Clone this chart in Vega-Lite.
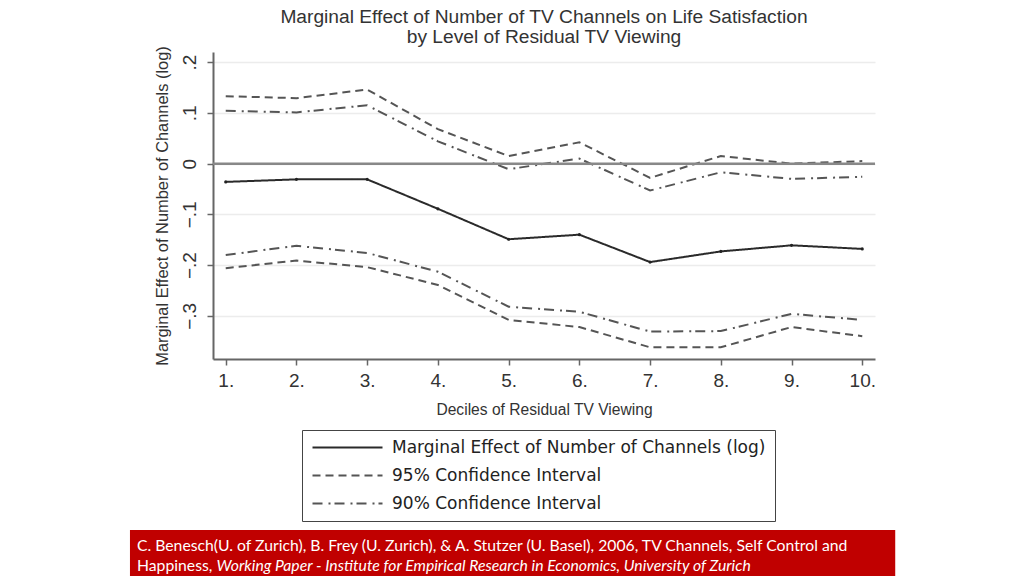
{
  "$schema": "https://vega.github.io/schema/vega-lite/v6.json",
  "width": 662,
  "height": 307,
  "autosize": {"type": "none"},
  "padding": {"left": 213, "top": 52, "right": 149, "bottom": 217},
  "background": "white",
  "config": {"view": {"stroke": null}, "font": "Liberation Sans"},
  "title": {
    "text": ["Marginal Effect of Number of TV Channels on Life Satisfaction", "by Level of Residual TV Viewing"],
    "anchor": "middle",
    "frame": "group",
    "fontSize": 19.2,
    "fontWeight": "normal",
    "font": "Liberation Sans",
    "color": "#333",
    "lineHeight": 20,
    "offset": 8,
    "dy": 9
  },
  "datasets": {
    "effects": [
      {"decile": 1, "series": "Marginal Effect of Number of Channels (log)", "bound": "est", "value": -0.036},
      {"decile": 2, "series": "Marginal Effect of Number of Channels (log)", "bound": "est", "value": -0.031},
      {"decile": 3, "series": "Marginal Effect of Number of Channels (log)", "bound": "est", "value": -0.031},
      {"decile": 4, "series": "Marginal Effect of Number of Channels (log)", "bound": "est", "value": -0.089},
      {"decile": 5, "series": "Marginal Effect of Number of Channels (log)", "bound": "est", "value": -0.149},
      {"decile": 6, "series": "Marginal Effect of Number of Channels (log)", "bound": "est", "value": -0.140},
      {"decile": 7, "series": "Marginal Effect of Number of Channels (log)", "bound": "est", "value": -0.194},
      {"decile": 8, "series": "Marginal Effect of Number of Channels (log)", "bound": "est", "value": -0.173},
      {"decile": 9, "series": "Marginal Effect of Number of Channels (log)", "bound": "est", "value": -0.161},
      {"decile": 10, "series": "Marginal Effect of Number of Channels (log)", "bound": "est", "value": -0.168},
      {"decile": 1, "series": "95% Confidence Interval", "bound": "upper", "value": 0.133},
      {"decile": 2, "series": "95% Confidence Interval", "bound": "upper", "value": 0.129},
      {"decile": 3, "series": "95% Confidence Interval", "bound": "upper", "value": 0.146},
      {"decile": 4, "series": "95% Confidence Interval", "bound": "upper", "value": 0.068},
      {"decile": 5, "series": "95% Confidence Interval", "bound": "upper", "value": 0.015},
      {"decile": 6, "series": "95% Confidence Interval", "bound": "upper", "value": 0.042},
      {"decile": 7, "series": "95% Confidence Interval", "bound": "upper", "value": -0.028},
      {"decile": 8, "series": "95% Confidence Interval", "bound": "upper", "value": 0.015},
      {"decile": 9, "series": "95% Confidence Interval", "bound": "upper", "value": 0.000},
      {"decile": 10, "series": "95% Confidence Interval", "bound": "upper", "value": 0.005},
      {"decile": 1, "series": "95% Confidence Interval", "bound": "lower", "value": -0.206},
      {"decile": 2, "series": "95% Confidence Interval", "bound": "lower", "value": -0.191},
      {"decile": 3, "series": "95% Confidence Interval", "bound": "lower", "value": -0.204},
      {"decile": 4, "series": "95% Confidence Interval", "bound": "lower", "value": -0.239},
      {"decile": 5, "series": "95% Confidence Interval", "bound": "lower", "value": -0.308},
      {"decile": 6, "series": "95% Confidence Interval", "bound": "lower", "value": -0.322},
      {"decile": 7, "series": "95% Confidence Interval", "bound": "lower", "value": -0.362},
      {"decile": 8, "series": "95% Confidence Interval", "bound": "lower", "value": -0.362},
      {"decile": 9, "series": "95% Confidence Interval", "bound": "lower", "value": -0.322},
      {"decile": 10, "series": "95% Confidence Interval", "bound": "lower", "value": -0.340},
      {"decile": 1, "series": "90% Confidence Interval", "bound": "upper", "value": 0.104},
      {"decile": 2, "series": "90% Confidence Interval", "bound": "upper", "value": 0.101},
      {"decile": 3, "series": "90% Confidence Interval", "bound": "upper", "value": 0.115},
      {"decile": 4, "series": "90% Confidence Interval", "bound": "upper", "value": 0.044},
      {"decile": 5, "series": "90% Confidence Interval", "bound": "upper", "value": -0.011},
      {"decile": 6, "series": "90% Confidence Interval", "bound": "upper", "value": 0.010},
      {"decile": 7, "series": "90% Confidence Interval", "bound": "upper", "value": -0.053},
      {"decile": 8, "series": "90% Confidence Interval", "bound": "upper", "value": -0.017},
      {"decile": 9, "series": "90% Confidence Interval", "bound": "upper", "value": -0.030},
      {"decile": 10, "series": "90% Confidence Interval", "bound": "upper", "value": -0.026},
      {"decile": 1, "series": "90% Confidence Interval", "bound": "lower", "value": -0.180},
      {"decile": 2, "series": "90% Confidence Interval", "bound": "lower", "value": -0.162},
      {"decile": 3, "series": "90% Confidence Interval", "bound": "lower", "value": -0.176},
      {"decile": 4, "series": "90% Confidence Interval", "bound": "lower", "value": -0.213},
      {"decile": 5, "series": "90% Confidence Interval", "bound": "lower", "value": -0.282},
      {"decile": 6, "series": "90% Confidence Interval", "bound": "lower", "value": -0.292},
      {"decile": 7, "series": "90% Confidence Interval", "bound": "lower", "value": -0.331},
      {"decile": 8, "series": "90% Confidence Interval", "bound": "lower", "value": -0.330},
      {"decile": 9, "series": "90% Confidence Interval", "bound": "lower", "value": -0.296},
      {"decile": 10, "series": "90% Confidence Interval", "bound": "lower", "value": -0.308}
    ],
    "footer1": [{"label": "C. Benesch(U. of Zurich), B. Frey (U. Zurich), & A. Stutzer (U. Basel), 2006, TV Channels, Self Control and"}],
    "footer2": [{"label": "Happiness,"}],
    "footer3": [{"label": "Working Paper - Institute for Empirical Research in Economics, University of Zurich"}],
    "box": [{"name": "source"}]
  },
  "layer": [
    {
      "data": {"name": "box"},
      "mark": {"type": "rect", "color": "#c00000", "clip": false},
      "encoding": {
        "x": {"datum": -0.354, "type": "quantitative"},
        "x2": {"datum": 10.466},
        "y": {"datum": -0.722, "type": "quantitative"},
        "y2": {"datum": -0.83}
      }
    },
    {
      "data": {"name": "effects"},
      "mark": {"type": "line", "strokeWidth": 2, "clip": false},
      "encoding": {
        "x": {
          "field": "decile",
          "type": "quantitative",
          "scale": {"domain": [0.82, 10.18], "nice": false, "zero": false},
          "axis": {
            "title": "Deciles of Residual TV Viewing",
            "titleFont": "Liberation Sans",
            "titleFontSize": 15.6,
            "titleFontWeight": "normal",
            "titleColor": "#333",
            "titlePadding": 12,
            "values": [1, 2, 3, 4, 5, 6, 7, 8, 9, 10],
            "labelExpr": "datum.value + '.'",
            "labelFont": "Liberation Sans",
            "labelFontSize": 19,
            "labelColor": "#333",
            "labelPadding": 6,
            "grid": false,
            "domainColor": "#666",
            "domainWidth": 2,
            "tickColor": "#666",
            "tickWidth": 1.5,
            "tickSize": 6
          }
        },
        "y": {
          "field": "value",
          "type": "quantitative",
          "scale": {"domain": [-0.385, 0.22], "nice": false, "zero": false},
          "axis": {
            "title": "Marginal Effect of Number of Channels (log)",
            "titleFont": "Liberation Sans",
            "titleFontSize": 16.4,
            "titleFontWeight": "normal",
            "titleColor": "#333",
            "titlePadding": 10,
            "values": [-0.3, -0.2, -0.1, 0, 0.1, 0.2],
            "labelExpr": "datum.value == 0 ? '0' : replace(format(datum.value, '.1f'), '0.', '.')",
            "labelAngle": 270,
            "labelAlign": "center",
            "labelBaseline": "bottom",
            "labelFont": "Liberation Sans",
            "labelFontSize": 19,
            "labelColor": "#333",
            "labelPadding": 8,
            "grid": true,
            "gridColor": "#ececec",
            "gridWidth": 1.5,
            "domainColor": "#666",
            "domainWidth": 2,
            "tickColor": "#666",
            "tickWidth": 1.5,
            "tickSize": 6
          }
        },
        "color": {
          "field": "series",
          "type": "nominal",
          "scale": {
            "domain": ["Marginal Effect of Number of Channels (log)", "95% Confidence Interval", "90% Confidence Interval"],
            "range": ["#2a2a2a", "#555555", "#555555"]
          },
          "legend": {
            "title": null,
            "orient": "none",
            "legendX": 89,
            "legendY": 378,
            "symbolType": "M-1,0H9",
            "symbolSize": 196,
            "symbolStrokeWidth": 2,
            "symbolFillColor": "transparent",
            "labelFont": "DejaVu Sans",
            "labelFontSize": 17,
            "labelColor": "#222",
            "labelOffset": 64,
            "labelLimit": 600,
            "rowPadding": 10,
            "padding": 9,
            "strokeColor": "#444",
            "fillColor": "white"
          }
        },
        "strokeDash": {
          "field": "series",
          "type": "nominal",
          "scale": {
            "domain": ["Marginal Effect of Number of Channels (log)", "95% Confidence Interval", "90% Confidence Interval"],
            "range": [[1, 0], [8, 5], [10, 6, 2, 4]]
          },
          "legend": {
            "title": null,
            "orient": "none",
            "legendX": 89,
            "legendY": 378,
            "symbolType": "M-1,0H9",
            "symbolSize": 196,
            "symbolStrokeWidth": 2,
            "symbolFillColor": "transparent",
            "labelFont": "DejaVu Sans",
            "labelFontSize": 17,
            "labelColor": "#222",
            "labelOffset": 64,
            "labelLimit": 600,
            "rowPadding": 10,
            "padding": 9,
            "strokeColor": "#444",
            "fillColor": "white"
          }
        },
        "detail": {"field": "bound", "type": "nominal"}
      }
    },
    {
      "data": {"name": "box"},
      "mark": {"type": "rule", "color": "#888", "strokeWidth": 2.5},
      "encoding": {
        "y": {"datum": 0, "type": "quantitative"}
      }
    },
    {
      "data": {"name": "effects"},
      "transform": [{"filter": "datum.bound == 'est'"}],
      "mark": {"type": "point", "filled": true, "size": 10, "color": "#222", "opacity": 1},
      "encoding": {
        "x": {"field": "decile", "type": "quantitative"},
        "y": {"field": "value", "type": "quantitative"}
      }
    },
    {
      "data": {"name": "footer1"},
      "mark": {"type": "text", "align": "left", "baseline": "middle", "font": "Lato", "fontSize": 15.75, "color": "white"},
      "encoding": {
        "x": {"datum": -0.255, "type": "quantitative"},
        "y": {"datum": -0.754, "type": "quantitative"},
        "text": {"field": "label"}
      }
    },
    {
      "data": {"name": "footer2"},
      "mark": {"type": "text", "align": "left", "baseline": "middle", "font": "Lato", "fontSize": 15.75, "color": "white"},
      "encoding": {
        "x": {"datum": -0.255, "type": "quantitative"},
        "y": {"datum": -0.793, "type": "quantitative"},
        "text": {"field": "label"}
      }
    },
    {
      "data": {"name": "footer3"},
      "mark": {"type": "text", "align": "left", "baseline": "middle", "font": "Lato", "fontSize": 15.75, "fontStyle": "italic", "color": "white"},
      "encoding": {
        "x": {"datum": 0.87, "type": "quantitative"},
        "y": {"datum": -0.793, "type": "quantitative"},
        "text": {"field": "label"}
      }
    }
  ]
}
